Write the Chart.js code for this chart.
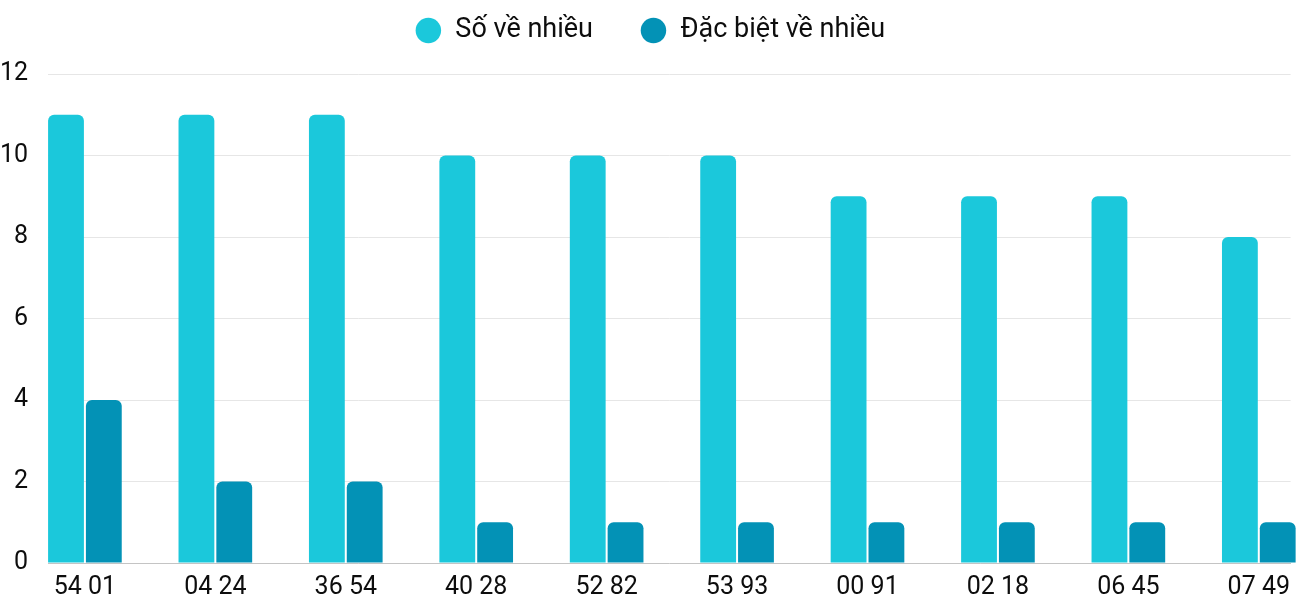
<!DOCTYPE html>
<html>
<head>
<meta charset="utf-8">
<script src="https://cdn.jsdelivr.net/npm/chart.js@4"></script>
<style>
  html, body { margin: 0; padding: 0; background: #fff; overflow: hidden; }
  #wrap { position: relative; width: 1300px; height: 600px; }
  canvas { display: block; }
</style>
</head>
<body>
<div id="wrap"><canvas id="myChart"></canvas></div>
<script>
const labels = ["54 01", "04 24", "36 54", "40 28", "52 82", "53 93", "00 91", "02 18", "06 45", "07 49"];
const soVeNhieu = [11, 11, 11, 10, 10, 10, 9, 9, 9, 8];
const dacBietVeNhieu = [4, 2, 2, 1, 1, 1, 1, 1, 1, 1];
const yTicks = [0, 2, 4, 6, 8, 10, 12];

Chart.defaults.font.family = "Roboto, 'Noto Sans', sans-serif";
Chart.defaults.color = '#0d0d0d';

// bars sit on an index axis so the first/last groups hug the plot edges
const toPoints = arr => arr.map((v, i) => ({ x: i, y: v }));

// room under the legend (its padding also sets item spacing)
const legendGap = {
    id: 'legendGap',
    beforeInit(chart) {
        const fit = chart.legend.fit;
        chart.legend.fit = function() {
            fit.bind(chart.legend)();
            this.height += 20;
        };
    }
};

var ctx = document.getElementById('myChart').getContext('2d');
var chart = new Chart(ctx, {
    type: 'bar',
    data: {
        datasets: [{
            label: 'Số về nhiều',
            backgroundColor: '#1bc8db',
            data: toPoints(soVeNhieu),
            borderRadius: 6,
            categoryPercentage: 0.58,
            barPercentage: 0.947,
            clip: false
        },
        {
            label: 'Đặc biệt về nhiều',
            backgroundColor: '#0392b6',
            data: toPoints(dacBietVeNhieu),
            borderRadius: 6,
            categoryPercentage: 0.58,
            barPercentage: 0.947,
            clip: false
        }]
    },
    options: {
        responsive: true,
        maintainAspectRatio: false,
        animation: false,
        layout: { padding: { top: -30, left: 0, right: 0, bottom: 0 }, autoPadding: false },
        plugins: {
            tooltip: { enabled: false },
            legend: {
                position: 'top',
                labels: {
                    usePointStyle: true,
                    pointStyle: 'circle',
                    boxHeight: 18,
                    padding: 47,
                    font: { size: 27 }
                }
            }
        },
        scales: {
            x: {
                type: 'linear',
                offset: false,
                min: -0.283,
                max: 9.244,
                afterBuildTicks: scale => {
                    scale.ticks = labels.map((l, i) => ({ value: i }));
                },
                afterFit: scale => { scale.height = 37; },
                ticks: {
                    autoSkip: false,
                    maxRotation: 0,
                    padding: 10,
                    font: { size: 25 },
                    callback: value => labels[value]
                },
                grid: { display: false, drawTicks: false },
                border: { display: true, color: '#c4c4c4', width: 1 }
            },
            y: {
                min: 0,
                max: 12,
                afterBuildTicks: scale => {
                    scale.ticks = yTicks.map(v => ({ value: v }));
                },
                afterFit: scale => { scale.width = 48; },
                ticks: {
                    padding: 20,
                    font: { size: 25 }
                },
                grid: { color: '#e6e6e6', drawTicks: false },
                border: { display: false }
            }
        }
    },
    plugins: [legendGap]
});
</script>
</body>
</html>
